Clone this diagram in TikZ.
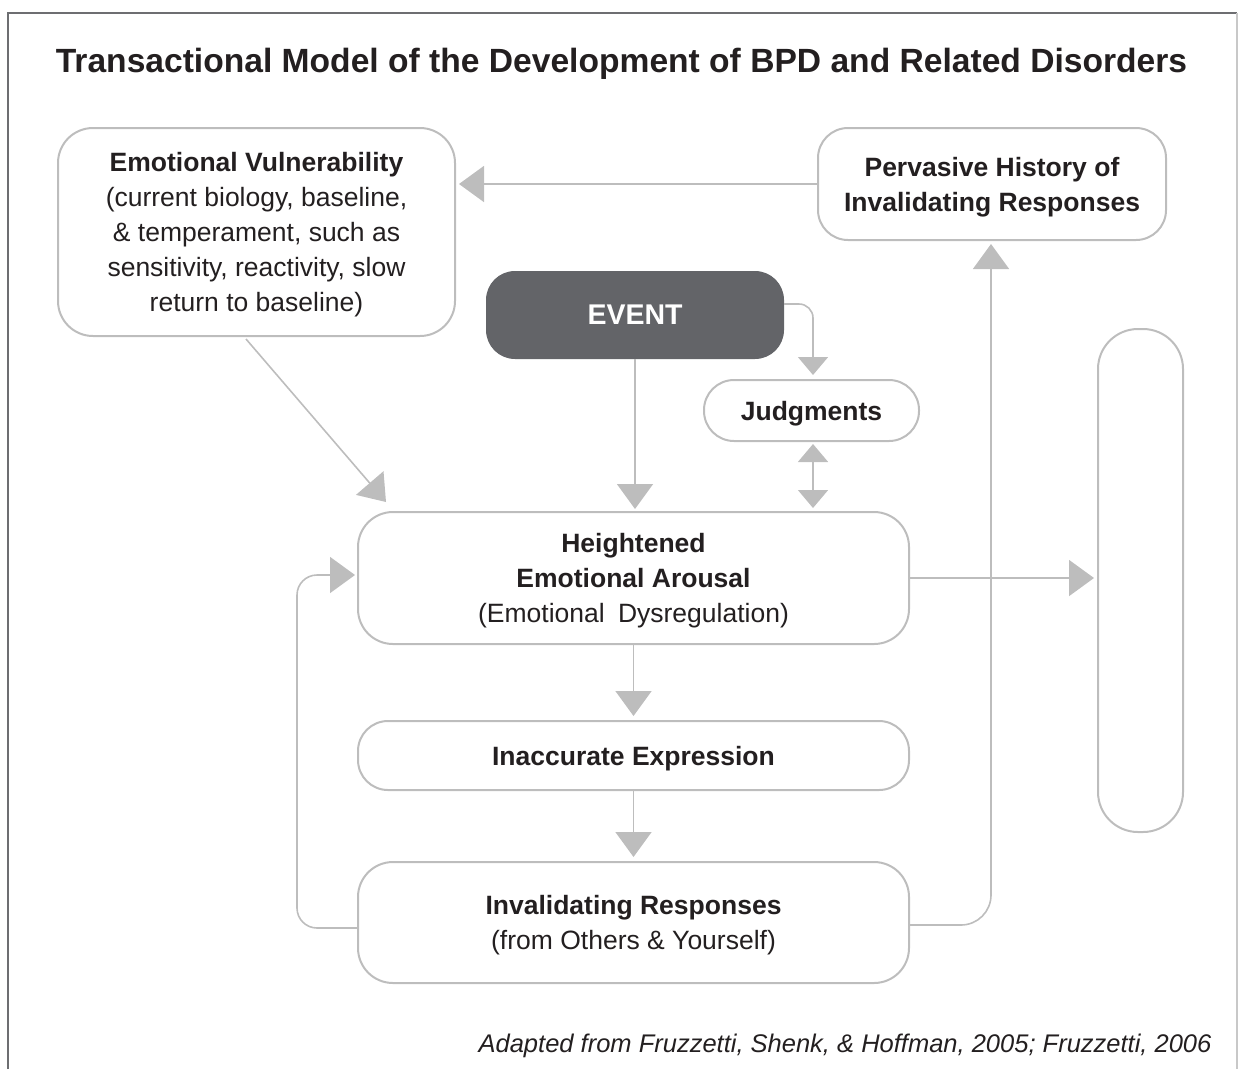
\documentclass[tikz,border=0pt]{standalone}
\usepackage{fontspec}
\setmainfont{Liberation Sans}
\usetikzlibrary{arrows.meta,calc}
\definecolor{boxline}{HTML}{BDBDBD}
\definecolor{arrgray}{HTML}{BDBDBD}
\definecolor{eventfill}{HTML}{636468}
\definecolor{frameclr}{HTML}{6D6E71}
\definecolor{rightframe}{HTML}{C8C8C8}
\definecolor{txt}{HTML}{231F20}
\begin{document}
\begin{tikzpicture}[x=1pt,y=-1pt,
  box/.style={draw=boxline, line width=2pt, rectangle, rounded corners=#1, inner sep=0pt,
    align=center, text=txt, text depth=0pt, font=\fontsize{26.5}{35}\selectfont},
  box/.default=32pt,
  arr/.style={draw=arrgray, line width=1.6pt, -{Triangle[length=25pt,width=36pt]}, shorten >=0pt},
  arrsmall/.style={draw=arrgray, line width=1.6pt, -{Triangle[length=18pt,width=30pt]}},
  arrboth/.style={draw=arrgray, line width=1.6pt, {Triangle[length=18pt,width=30pt]}-{Triangle[length=18pt,width=30pt]}},
]
\useasboundingbox (0,0) rectangle (1238,1069);

% frame
\draw[frameclr, line width=2.5pt] (8,1069) -- (8,13) -- (1237,13);
\draw[rightframe, line width=1.5pt] (1237,13) -- (1237,1069);

% title
\node[anchor=base, text=txt, font=\bfseries\fontsize{33.6}{40}\selectfont] (title) at (621.5,72)
  {Transactional Model of the Development of BPD and Related Disorders};

% nodes
\node[box=35pt, minimum width=397pt, minimum height=208pt] (vuln) at (256.5,232)
  {\textbf{Emotional Vulnerability}\\(current biology, baseline,\\\& temperament, such as\\sensitivity, reactivity, slow\\return to baseline)};
\node[box=30pt, minimum width=348pt, minimum height=112pt] (hist) at (992,184)
  {\textbf{Pervasive History of}\\\textbf{Invalidating Responses}};
\node[box=28pt, fill=eventfill, draw=eventfill, text=white, font=\bfseries\fontsize{28.5}{34}\selectfont,
  minimum width=296pt, minimum height=86pt] (event) at (635,315) {EVENT};
\node[box=30pt, minimum width=215pt, minimum height=61pt] (judg) at (811.5,410.5) {\textbf{Judgments}};
\node[box=35pt, minimum width=551pt, minimum height=132pt] (heig) at (633.5,578)
  {\textbf{Heightened}\\\textbf{Emotional Arousal}\\(Emotional\hspace{0.5em}Dysregulation)};
\node[box=30pt, minimum width=551pt, minimum height=69pt] (inacc) at (633.5,755.5)
  {\textbf{Inaccurate Expression}};
\node[box=35pt, minimum width=551pt, minimum height=121pt] (inval) at (633.5,922.5)
  {\textbf{Invalidating Responses}\\(from Others \& Yourself)};
\node[box=40pt, minimum width=85pt, minimum height=503pt] (rbox) at (1140.5,580.5) {};

% connectors
\draw[arr] (hist.west) -- ($(hist.west -| vuln.east)+(3,0)$);
\draw[arr] ($(vuln.south west)+(189,2)$) -- ($(heig.north west)+(29,-9)$);
\draw[arr] (event.south) -- ($(event.south |- heig.north)+(0,-2)$);
\draw[arrsmall, rounded corners=14pt] ($(event.east)+(0,-11)$) -| ($(judg.north)+(1.5,-4)$);
\draw[arrboth] ($(judg.south)+(1.5,2)$) -- ($(judg.south |- heig.north)+(1.5,-3)$);
\draw[arr] (heig.east) -- ($(heig.east -| rbox.west)+(-3,0)$);
\draw[arr] (heig.south) -- ($(inacc.north)+(0,-4)$);
\draw[arr] (inacc.south) -- ($(inval.north)+(0,-4)$);
\draw[arr, rounded corners=20pt] ($(inval.west)+(0,5.5)$) -- ++(-60,0) |- ($(heig.west)+(-2,-3)$);
\draw[arr, rounded corners=30pt] ($(inval.east)+(0,2.5)$) -| ($(hist.south)+(-1,3)$);

% footer
\node[anchor=base, text=txt, font=\itshape\fontsize{25.5}{30}\selectfont] (foot) at (845,1052)
  {Adapted from Fruzzetti, Shenk, \& Hoffman, 2005; Fruzzetti, 2006};
\end{tikzpicture}
\end{document}
